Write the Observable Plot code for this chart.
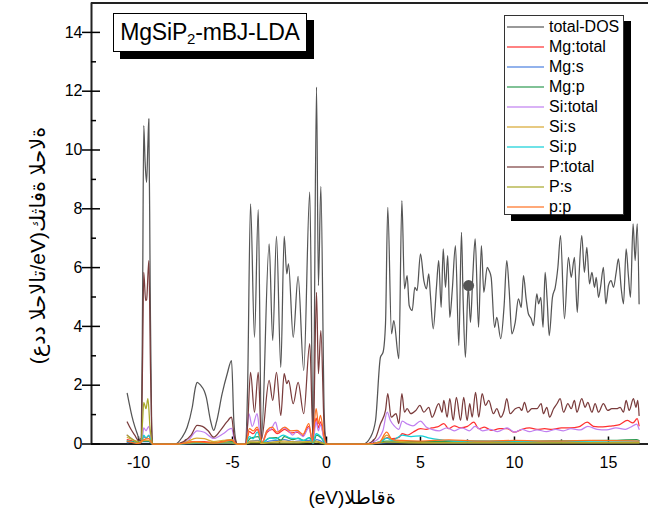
<!DOCTYPE html>
<html><head><meta charset="utf-8">
<script src="https://cdn.jsdelivr.net/npm/d3@7"></script>
<script src="https://cdn.jsdelivr.net/npm/@observablehq/plot@0.6"></script>
<style>
body{margin:0;background:#fff;}
#wrap{position:relative;width:648px;height:525px;font-family:"Liberation Sans",Arial,"DejaVu Sans",sans-serif;overflow:hidden;}
.box{position:absolute;background:#fff;box-sizing:border-box;}
#title{left:113px;top:13px;width:194px;height:39px;border:1px solid #000;box-shadow:7px 7px 0 #000;font-size:23px;line-height:37px;text-align:center;color:#000;white-space:nowrap;letter-spacing:-0.2px;}
#title sub{font-size:15px;vertical-align:-4px;line-height:0;}
#legend{left:504px;top:15px;width:120px;height:200px;border:1px solid #333;box-shadow:7px 6px 0 #000;padding-top:1px;}
.row{height:20px;display:flex;align-items:center;font-size:16px;color:#000;white-space:nowrap;}
.row svg{margin-left:2px;margin-right:5px;flex:none;}
</style></head><body><div id="wrap"></div><script>
// ---- data (energy eV, DOS states/eV) ----
const totalDOS = [[-10.6,1.72],[-10.5,1.4],[-10.35,0.95],[-10.2,0.6],[-10.05,0.32],[-9.95,0.15],[-9.85,0.2],[-9.78,5.2],[-9.72,10.83],[-9.65,9.6],[-9.57,8.9],[-9.5,10.2],[-9.45,11.06],[-9.38,5.5],[-9.3,0.6],[-9.25,0],
[-8.05,0],[-7.68,0.23],[-7.41,0.57],[-7.14,1.25],[-6.97,1.93],[-6.88,2.1],[-6.7,2.0],[-6.5,1.8],[-6.4,1.6],[-6.17,0.8],[-6.0,0.46],[-5.85,0.75],[-5.55,1.71],[-5.28,2.39],[-5.05,2.84],[-4.93,0.8],[-4.8,0.06],[-4.75,0],
[-4.3,0],[-4.2,1.8],[-4.04,8.17],[-3.83,3.63],[-3.63,7.97],[-3.46,0.23],[-3.05,6.81],[-2.86,3.52],[-2.66,7.06],[-2.43,2.61],[-2.25,7.06],[-2.11,5.79],[-2.02,6.13],[-1.77,3.63],[-1.51,5.7],[-1.21,2.5],[-0.89,8.57],[-0.71,0.18],[-0.53,12.14],[-0.43,5.39],[-0.3,8.76],[-0.12,1.0],[-0.04,0.1],[0,0],
[1.95,0],[2.34,0.23],[2.61,0.8],[2.87,2.95],[3.01,3.12],[3.14,4.09],[3.26,8.05],[3.46,3.75],[3.58,4.2],[3.85,2.9],[4.01,8.28],[4.15,5.28],[4.29,5.73],[4.4,4.71],[4.56,4.54],[4.7,5.33],[4.82,5.22],[5.0,6.47],[5.18,5.56],[5.32,5.28],[5.44,5.79],[5.53,5.05],[5.68,3.92],[5.85,5.33],[5.97,6.24],[6.1,4.65],[6.21,6.64],[6.33,5.33],[6.45,6.41],[6.56,4.31],[6.69,5.22],[6.86,6.75],[7.04,3.35],[7.18,7.2],[7.27,4.88],[7.39,2.95],[7.54,5.39],[7.66,4.14],[7.78,5.67],[7.91,6.98],[8.09,3.97],[8.24,6.75],[8.37,5.16],[8.55,6.01],[8.65,5.9],[8.76,5.67],[8.94,3.97],[9.06,4.31],[9.27,3.58],[9.45,4.71],[9.59,6.24],[9.72,5.22],[9.86,3.75],[10.04,4.14],[10.21,4.94],[10.36,4.65],[10.48,5.73],[10.62,4.94],[10.74,4.43],[10.89,4.26],[11.01,4.03],[11.19,5.11],[11.28,4.77],[11.4,4.99],[11.52,3.97],[11.63,5.84],[11.74,4.88],[11.85,3.69],[12.02,4.99],[12.17,5.33],[12.31,6.01],[12.45,7.09],[12.66,4.26],[12.87,6.35],[13.02,5.67],[13.19,6.35],[13.34,4.48],[13.44,5.79],[13.58,7.09],[13.72,5.84],[13.85,6.69],[13.99,5.45],[14.12,5.84],[14.26,5.33],[14.35,5.67],[14.47,4.99],[14.59,5.39],[14.73,6.01],[14.86,4.77],[15.0,5.39],[15.14,5.56],[15.27,5.33],[15.41,5.84],[15.53,6.3],[15.68,5.28],[15.8,4.77],[15.94,6.64],[16.06,5.73],[16.17,4.99],[16.31,7.49],[16.42,6.24],[16.53,7.49],[16.63,4.77]];

const mgTotal = [[-10.6,0.15],[-10.2,0.08],[-9.9,0.03],[-9.72,0.25],[-9.6,0.2],[-9.45,0.28],[-9.3,0.02],[-9.25,0],
[-8.05,0],[-7.0,0.08],[-6.5,0.08],[-6.0,0.04],[-5.05,0.15],[-4.8,0.02],[-4.75,0],
[-4.3,0],[-4.1,0.42],[-3.9,0.35],[-3.69,0.5],[-3.42,0.05],[-3.16,0.4],[-2.89,0.5],[-2.62,0.35],[-2.22,0.5],[-1.9,0.38],[-1.56,0.4],[-1.25,0.28],[-0.94,0.6],[-0.75,0.1],[-0.55,0.88],[-0.43,0.55],[-0.32,0.75],[-0.12,0.15],[0,0],
[2.0,0],[2.8,0.05],[3.23,0.22],[3.5,0.18],[3.85,0.22],[4.03,0.35],[4.3,0.3],[4.6,0.4],[5.0,0.52],[5.3,0.5],[5.6,0.55],[5.9,0.58],[6.24,0.69],[6.5,0.52],[6.8,0.62],[7.1,0.55],[7.5,0.6],[7.84,0.74],[8.1,0.52],[8.4,0.57],[8.8,0.46],[9.2,0.52],[9.6,0.52],[10.0,0.4],[10.4,0.5],[10.8,0.55],[11.2,0.5],[11.6,0.52],[12.0,0.5],[12.5,0.55],[13.0,0.55],[13.4,0.58],[13.87,0.74],[14.2,0.6],[14.7,0.58],[15.2,0.62],[15.6,0.66],[16.0,0.8],[16.3,0.72],[16.53,0.86],[16.63,0.62]];

const mgS = [[-10.6,0.05],[-9.72,0.08],[-9.45,0.08],[-9.25,0],[-8.05,0],[-6.9,0.02],[-5.05,0.03],[-4.75,0],
[-4.3,0],[-4.04,0.1],[-3.63,0.12],[-3.46,0.02],[-3.05,0.1],[-2.66,0.12],[-2.25,0.15],[-1.77,0.08],[-1.51,0.1],[-0.89,0.12],[-0.71,0.02],[-0.53,0.15],[-0.3,0.1],[0,0],
[2.2,0],[3.2,0.05],[4.0,0.05],[6,0.04],[10,0.04],[14,0.05],[16.63,0.05]];

const mgP = [[-10.6,0.08],[-9.72,0.1],[-9.45,0.1],[-9.25,0],[-8.05,0],[-6.9,0.05],[-6,0.03],[-5.05,0.08],[-4.75,0],
[-4.3,0],[-4.04,0.2],[-3.63,0.25],[-3.46,0.03],[-3.05,0.2],[-2.66,0.22],[-2.43,0.12],[-2.25,0.25],[-1.77,0.15],[-1.51,0.2],[-1.21,0.12],[-0.89,0.22],[-0.71,0.03],[-0.53,0.3],[-0.3,0.22],[0,0],
[2.2,0],[3.2,0.1],[4.0,0.1],[5,0.08],[7,0.1],[9,0.09],[11,0.1],[13,0.11],[15,0.12],[16.5,0.15],[16.63,0.12]];

const siTotal = [[-10.6,0.3],[-10.3,0.15],[-10.0,0.05],[-9.78,0.3],[-9.72,0.55],[-9.6,0.45],[-9.45,0.6],[-9.3,0.05],[-9.25,0],
[-8.05,0],[-7.4,0.1],[-6.88,0.45],[-6.5,0.4],[-6.0,0.19],[-5.5,0.35],[-5.05,0.53],[-4.9,0.15],[-4.75,0],
[-4.3,0],[-4.13,1.03],[-3.95,0.6],[-3.69,1.03],[-3.55,0.4],[-3.42,0.08],[-3.16,0.45],[-2.95,0.5],[-2.71,0.74],[-2.55,0.42],[-2.3,0.55],[-2.05,0.48],[-1.8,0.3],[-1.55,0.45],[-1.25,0.25],[-0.94,0.55],[-0.72,0.08],[-0.55,0.75],[-0.43,0.45],[-0.32,0.65],[-0.12,0.15],[0,0],
[2.0,0],[2.6,0.1],[3.0,0.45],[3.23,1.08],[3.4,0.8],[3.6,0.62],[3.85,0.5],[4.03,0.78],[4.3,0.68],[4.6,0.62],[5.0,0.78],[5.3,0.58],[5.6,0.5],[6.0,0.45],[6.4,0.55],[6.8,0.45],[7.2,0.55],[7.6,0.45],[7.9,0.6],[8.3,0.45],[8.7,0.5],[9.1,0.42],[9.6,0.55],[10.0,0.4],[10.4,0.5],[10.8,0.42],[11.2,0.48],[11.7,0.42],[12.2,0.5],[12.6,0.45],[13.0,0.52],[13.5,0.48],[13.9,0.6],[14.4,0.5],[14.9,0.48],[15.4,0.55],[15.9,0.5],[16.2,0.58],[16.5,0.68],[16.63,0.5]];

const siS = [[-10.6,0.22],[-10.2,0.12],[-9.9,0.05],[-9.72,0.12],[-9.45,0.12],[-9.25,0],
[-8.05,0],[-7.5,0.06],[-6.9,0.2],[-6.5,0.18],[-6.0,0.08],[-5.5,0.12],[-5.05,0.15],[-4.75,0],
[-4.3,0],[-4.04,0.1],[-3.63,0.1],[-3.46,0.02],[-2.66,0.08],[-2.25,0.1],[-1.5,0.07],[-0.53,0.1],[0,0],
[2.2,0],[2.9,0.1],[3.2,0.3],[3.5,0.15],[4.0,0.08],[5,0.05],[10,0.05],[16.63,0.05]];

const siP = [[-10.6,0.12],[-10.0,0.04],[-9.78,0.15],[-9.72,0.3],[-9.6,0.2],[-9.45,0.3],[-9.3,0.02],[-9.25,0],
[-8.05,0],[-6.9,0.05],[-5.05,0.05],[-4.75,0],
[-4.3,0],[-4.1,0.25],[-3.9,0.18],[-3.69,0.4],[-3.42,0.05],[-3.0,0.2],[-2.7,0.17],[-2.3,0.3],[-1.9,0.2],[-1.5,0.18],[-1.2,0.12],[-0.94,0.22],[-0.72,0.04],[-0.55,0.35],[-0.3,0.25],[0,0],
[2.2,0],[2.9,0.08],[3.2,0.2],[3.5,0.12],[4.03,0.3],[4.5,0.25],[5.0,0.28],[5.5,0.2],[6.0,0.15],[7.0,0.1],[9,0.1],[12,0.08],[14,0.1],[16.63,0.1]];

const pTotal = [[-10.6,0.75],[-10.4,0.5],[-10.2,0.3],[-10.0,0.12],[-9.85,0.12],[-9.78,3.0],[-9.72,5.84],[-9.62,4.88],[-9.57,4.9],[-9.45,6.24],[-9.36,2.5],[-9.28,0.2],[-9.25,0],
[-8.05,0],[-7.6,0.08],[-7.2,0.3],[-6.88,0.63],[-6.6,0.6],[-6.3,0.45],[-6.0,0.23],[-5.6,0.5],[-5.3,0.75],[-5.05,0.91],[-4.92,0.3],[-4.78,0.02],[-4.75,0],
[-4.3,0],[-4.2,0.6],[-4.04,2.44],[-3.83,1.08],[-3.63,2.44],[-3.46,0.15],[-3.05,2.16],[-2.86,1.48],[-2.66,2.44],[-2.43,0.97],[-2.25,2.39],[-2.11,2.05],[-2.02,2.16],[-1.77,1.37],[-1.51,2.1],[-1.21,1.03],[-0.89,3.41],[-0.71,0.15],[-0.53,5.16],[-0.43,2.39],[-0.3,3.86],[-0.12,0.5],[-0.04,0.1],[0,0],
[2.1,0],[2.6,0.2],[2.87,0.69],[3.14,1.14],[3.26,1.71],[3.44,0.91],[3.7,1.03],[3.85,0.69],[4.01,1.71],[4.15,1.08],[4.29,1.2],[4.49,1.03],[4.75,1.14],[4.97,1.31],[5.18,1.08],[5.44,1.25],[5.62,0.91],[5.97,1.37],[6.15,1.08],[6.24,1.48],[6.42,0.91],[6.56,1.54],[6.74,0.8],[6.91,1.59],[7.13,0.8],[7.3,1.59],[7.48,0.8],[7.62,1.37],[7.75,0.91],[7.93,1.76],[8.1,0.91],[8.28,1.71],[8.46,1.31],[8.63,1.48],[8.88,1.03],[9.06,1.2],[9.27,0.91],[9.45,1.14],[9.59,1.54],[9.77,1.03],[10.04,1.2],[10.25,1.25],[10.39,1.14],[10.53,1.42],[10.71,1.08],[10.92,1.2],[11.19,1.2],[11.42,1.37],[11.54,1.03],[11.72,1.25],[11.87,0.91],[12.08,1.2],[12.26,1.37],[12.43,1.54],[12.61,1.08],[12.84,1.37],[13.02,1.2],[13.19,1.48],[13.32,1.08],[13.58,1.54],[13.76,1.25],[13.9,1.42],[14.12,1.08],[14.29,1.37],[14.47,1.08],[14.73,1.37],[14.96,1.14],[15.18,1.2],[15.44,1.2],[15.62,1.25],[15.8,1.08],[15.94,1.48],[16.1,1.14],[16.33,1.54],[16.46,1.25],[16.56,1.48],[16.63,0.97]];

const pS = [[-10.6,0.3],[-10.3,0.15],[-10.0,0.05],[-9.85,0.1],[-9.78,0.8],[-9.72,1.42],[-9.6,1.2],[-9.5,1.54],[-9.38,0.5],[-9.27,0.05],[-9.25,0],
[-8.05,0],[-6.9,0.05],[-5.05,0.04],[-4.75,0],
[-4.3,0],[-4.04,0.05],[-3.0,0.04],[-2,0.04],[-0.53,0.06],[0,0],
[2.2,0],[3.2,0.06],[5,0.04],[10,0.04],[16.63,0.04]];

const pP = [[-10.6,0.1],[-10.0,0.02],[-9.72,0.15],[-9.45,0.18],[-9.25,0],
[-8.05,0],[-6.9,0.08],[-6.0,0.03],[-5.05,0.12],[-4.75,0],
[-4.3,0],[-4.1,0.52],[-3.9,0.45],[-3.69,0.57],[-3.42,0.06],[-3.16,0.46],[-2.89,0.57],[-2.62,0.4],[-2.22,0.57],[-1.9,0.45],[-1.56,0.46],[-1.25,0.33],[-0.94,0.69],[-0.75,0.1],[-0.55,1.2],[-0.43,0.69],[-0.32,0.97],[-0.12,0.2],[0,0],
[2.0,0],[2.8,0.05],[3.2,0.4],[3.5,0.15],[4.0,0.12],[5.0,0.1],[6.5,0.14],[8,0.1],[10,0.12],[12,0.1],[14,0.12],[16.63,0.1]];

const marker = [[7.56,5.39]];

const seriesNames = ["total-DOS","Mg:total","Mg:s","Mg:p","Si:total","Si:s","Si:p","P:total","P:s","p:p"];
const seriesColors = ["#555555","#ff3030","#4a7fe0","#2e9a50","#c080f0","#d8a830","#10d0d8","#7a3c3c","#a8a828","#ff7020"];
const seriesData = [totalDOS,mgTotal,mgS,mgP,siTotal,siS,siP,pTotal,pS,pP];

const xMajor = [-10,-5,0,5,10,15];
const xMinor = [-7.5,-2.5,2.5,7.5,12.5];
const yMajor = [0,2,4,6,8,10,12,14];
const yMinor = [1,3,5,7,9,11,13];
const xLabel = "(eV)الطاقة";
const yLabel = "(عدد الحالات/eV)كثافة الحالة";
const LRO = "\u202D", PDF = "\u202C";

const rows = seriesData.flatMap((arr, k) => arr.map(([e, v]) => ({name: seriesNames[k], e, v})));
const font = '"Liberation Sans", Arial, "DejaVu Sans", sans-serif';

const chart = Plot.plot({
  width: 648, height: 525,
  marginLeft: 91, marginRight: 0, marginTop: 2.5, marginBottom: 81.5,
  x: {domain: [-12.5, 17.13], label: null},
  y: {domain: [0, 15], label: null},
  color: {domain: seriesNames, range: seriesColors},
  style: {fontFamily: font, fontSize: "16px", color: "#000", background: "#fff", overflow: "visible"},
  marks: [
    Plot.axisX(xMajor, {tickSize: 0, tickPadding: 13, fontSize: 16, tickFormat: d => String(d)}),
    Plot.axisY(yMajor, {tickSize: 0, tickPadding: 9, fontSize: 16, tickFormat: d => String(d)}),
    Plot.ruleY([0], {stroke: "#222", strokeWidth: 2}),
    Plot.ruleY([15], {stroke: "#222", strokeWidth: 2}),
    Plot.ruleX([-12.5], {stroke: "#222", strokeWidth: 2}),
    Plot.ruleX(xMajor, {x: d => d, y1: 0, y2: 0, insetTop: -7, stroke: "#000", strokeWidth: 1.5}),
    Plot.ruleX(xMinor, {x: d => d, y1: 0, y2: 0, insetTop: -4, stroke: "#000", strokeWidth: 1.5}),
    Plot.ruleY(yMajor, {y: d => d, x1: -12.5, x2: -12.5, insetLeft: -9, insetRight: -9, stroke: "#000", strokeWidth: 1.5}),
    Plot.ruleY(yMinor, {y: d => d, x1: -12.5, x2: -12.5, insetRight: -5, stroke: "#000", strokeWidth: 1.5}),
    Plot.lineY(rows, {x: "e", y: "v", z: "name", stroke: "name", curve: "monotone-x", strokeWidth: 1.25}),
    Plot.dot(marker, {x: d => d[0], y: d => d[1], r: 5.5, fill: "#555", stroke: "none"}),
    Plot.text([xLabel], {text: d => LRO + d + PDF, frameAnchor: "bottom", dx: -18, dy: 54, textAnchor: "middle", lineAnchor: "middle", fontSize: 19, ariaLabel: "xlab"}),
    Plot.text([yLabel], {text: d => LRO + d + PDF, frameAnchor: "left", dx: -53, dy: 22, rotate: -90, textAnchor: "middle", lineAnchor: "middle", fontSize: 21, ariaLabel: "ylab"})
  ]
});
d3.select(chart).selectAll('g[aria-label="xlab"] text, g[aria-label="ylab"] text')
  .attr("direction", "ltr").attr("unicode-bidi", "bidi-override");

const wrap = document.getElementById("wrap");
wrap.appendChild(chart);

const title = document.createElement("div");
title.className = "box"; title.id = "title";
title.innerHTML = "MgSiP<sub>2</sub>-mBJ-LDA";
wrap.appendChild(title);

const legend = document.createElement("div");
legend.className = "box"; legend.id = "legend";
seriesNames.forEach((n, i) => {
  const r = document.createElement("div");
  r.className = "row";
  r.innerHTML = `<svg width="37" height="4"><line x1="0" y1="2" x2="37" y2="2" stroke="${seriesColors[i]}" stroke-width="1.5" stroke-opacity="0.8"/></svg><span></span>`;
  r.querySelector("span").textContent = n;
  legend.appendChild(r);
});
wrap.appendChild(legend);
</script></body></html>
